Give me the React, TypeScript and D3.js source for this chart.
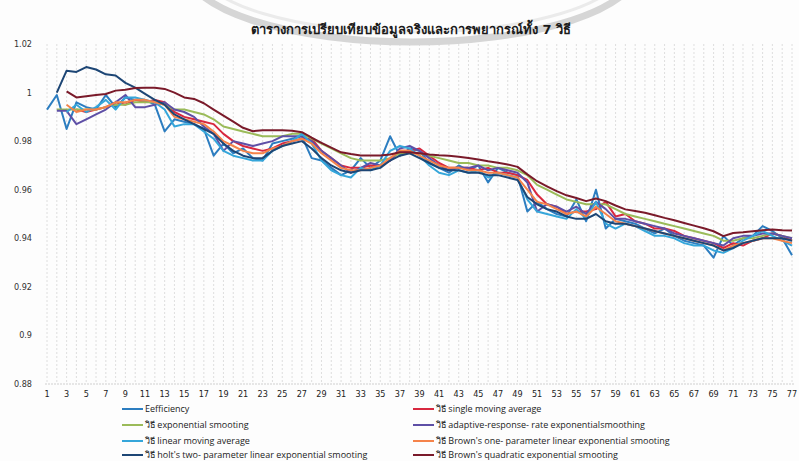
import React from "react";
import * as d3 from "d3";

const categories: number[] = Array.from({ length: 77 }, (_, i) => i + 1);
const yTicks: number[] = [0.88, 0.9, 0.92, 0.94, 0.96, 0.98, 1, 1.02];
const title = "ตารางการเปรียบเทียบข้อมูลจริงและการพยากรณ์ทั้ง  7 วิธี";

const seriesNames: string[] = [
  "Eefficiency",
  "วิธี  single moving  average",
  "วิธี exponential smooting",
  "วิธี adaptive-response- rate exponentialsmoothing",
  "วิธี   linear moving  average",
  "วิธี Brown's one- parameter linear exponential  smooting",
  "วิธี holt's two- parameter linear exponential  smooting",
  "วิธี Brown's quadratic exponential  smooting",
];

type V = number | null;

const efficiency: V[] = [
  0.993, 0.999, 0.985, 0.996, 0.994, 0.993, 0.999, 0.994, 0.998, 0.997,
  0.997, 0.995, 0.984, 0.989, 0.988, 0.987, 0.985, 0.974, 0.979, 0.975,
  0.977, 0.973, 0.972, 0.979, 0.98, 0.981, 0.982, 0.973, 0.972, 0.969,
  0.966, 0.968, 0.973, 0.969, 0.972, 0.982, 0.974, 0.977, 0.976, 0.971,
  0.969, 0.967, 0.97, 0.968, 0.97, 0.963, 0.969, 0.967, 0.966, 0.951,
  0.955, 0.952, 0.95, 0.949, 0.956, 0.947, 0.96, 0.944, 0.948, 0.947,
  0.946, 0.944, 0.942, 0.944, 0.941, 0.939, 0.938, 0.937, 0.932, 0.941,
  0.937, 0.94, 0.941, 0.945, 0.943, 0.94, 0.933,
];

const singleMA: V[] = [
  null, null, null, 0.993, 0.992, 0.993, 0.994, 0.996, 0.995, 0.997,
  0.996, 0.997, 0.996, 0.992, 0.99, 0.989, 0.988, 0.987, 0.983, 0.98,
  0.978, 0.977, 0.976, 0.977, 0.979, 0.98, 0.981, 0.981, 0.976, 0.973,
  0.97, 0.969, 0.969, 0.97, 0.97, 0.972, 0.976, 0.976, 0.977, 0.974,
  0.971, 0.969, 0.969, 0.969, 0.968, 0.969, 0.967, 0.967, 0.966, 0.964,
  0.958, 0.954, 0.953, 0.95, 0.951, 0.951, 0.952, 0.955, 0.949, 0.95,
  0.947, 0.946, 0.944, 0.944, 0.943, 0.941, 0.94, 0.939, 0.938, 0.936,
  0.938, 0.937, 0.939, 0.94, 0.942, 0.941, 0.939,
];

const expSmooth: V[] = [
  null, 0.993, 0.993, 0.993, 0.993, 0.993, 0.994, 0.995, 0.995, 0.996,
  0.996, 0.996, 0.995, 0.993, 0.993, 0.992, 0.991, 0.989, 0.986, 0.985,
  0.984, 0.983, 0.982, 0.982, 0.982, 0.983, 0.983, 0.981, 0.979, 0.977,
  0.975, 0.973, 0.972, 0.972, 0.972, 0.973, 0.975, 0.975, 0.975, 0.974,
  0.973, 0.972, 0.971, 0.971, 0.97, 0.97, 0.969, 0.969, 0.968, 0.966,
  0.962, 0.96, 0.958, 0.956, 0.955, 0.954, 0.954, 0.954, 0.952, 0.95,
  0.949, 0.948, 0.947, 0.946, 0.945, 0.944, 0.943, 0.942, 0.941, 0.939,
  0.939, 0.94, 0.94, 0.941, 0.942, 0.941, 0.94,
];

const adaptive: V[] = [
  null, 0.9925, 0.9925, 0.987, 0.989, 0.991, 0.993, 0.996, 0.999, 0.994,
  0.994, 0.995, 0.996, 0.993, 0.992, 0.99, 0.986, 0.983, 0.976, 0.98,
  0.979, 0.978, 0.979, 0.98, 0.982, 0.982, 0.982, 0.98, 0.976, 0.973,
  0.97, 0.967, 0.969, 0.971, 0.97, 0.972, 0.977, 0.978, 0.976, 0.973,
  0.97, 0.968, 0.969, 0.969, 0.97, 0.968, 0.969, 0.968, 0.967, 0.963,
  0.951, 0.954, 0.953, 0.951, 0.953, 0.95, 0.955, 0.952, 0.948, 0.948,
  0.947, 0.946, 0.945, 0.944, 0.942, 0.941, 0.94, 0.939, 0.938, 0.937,
  0.94, 0.941, 0.941, 0.942, 0.942, 0.941, 0.94,
];

const linearMA: V[] = [
  null, null, 0.992, 0.995, 0.992, 0.994, 0.997, 0.993, 0.998, 0.998,
  0.997, 0.996, 0.993, 0.986, 0.987, 0.987, 0.984, 0.981, 0.976, 0.974,
  0.973, 0.972, 0.972, 0.976, 0.978, 0.98, 0.983, 0.979, 0.972, 0.968,
  0.966, 0.965, 0.969, 0.968, 0.97, 0.976, 0.978, 0.977, 0.974, 0.97,
  0.967, 0.966, 0.968, 0.967, 0.968, 0.965, 0.967, 0.966, 0.965, 0.956,
  0.951, 0.95, 0.949, 0.948, 0.952, 0.948, 0.955, 0.946, 0.944, 0.946,
  0.945, 0.943, 0.941, 0.941, 0.94, 0.938, 0.937, 0.937, 0.935, 0.934,
  0.936, 0.939, 0.941, 0.943, 0.941, 0.939, 0.937,
];

const brownOne: V[] = [
  null, null, 0.995, 0.992, 0.993, 0.993, 0.994, 0.996, 0.996, 0.997,
  0.997, 0.996, 0.995, 0.99, 0.989, 0.988, 0.987, 0.984, 0.98, 0.978,
  0.976, 0.975, 0.975, 0.977, 0.978, 0.98, 0.981, 0.979, 0.975, 0.972,
  0.969, 0.968, 0.968, 0.969, 0.97, 0.973, 0.976, 0.976, 0.974, 0.972,
  0.97, 0.969, 0.969, 0.968, 0.968, 0.967, 0.967, 0.966, 0.965, 0.96,
  0.955, 0.954, 0.952, 0.95, 0.951, 0.949, 0.953, 0.95, 0.947, 0.946,
  0.945, 0.944, 0.943, 0.942, 0.941, 0.94, 0.939, 0.938, 0.937, 0.935,
  0.937, 0.938, 0.939, 0.94, 0.94, 0.939, 0.938,
];

const holt: V[] = [
  null, 1.0, 1.009, 1.0085, 1.0105, 1.0095, 1.0075, 1.007, 1.004, 1.002,
  0.9995, 0.997, 0.995, 0.991, 0.989, 0.987, 0.985, 0.983, 0.979, 0.976,
  0.974, 0.973, 0.973, 0.976, 0.978, 0.979, 0.98, 0.977, 0.973, 0.97,
  0.968, 0.967, 0.968, 0.968, 0.969, 0.972, 0.974, 0.975, 0.973, 0.971,
  0.969, 0.968, 0.968, 0.967, 0.967, 0.966, 0.966, 0.965, 0.964, 0.957,
  0.954, 0.952, 0.951, 0.949, 0.948, 0.948, 0.95, 0.947, 0.946, 0.946,
  0.945, 0.944, 0.943, 0.942, 0.941, 0.94, 0.939, 0.938, 0.937, 0.935,
  0.936, 0.938, 0.939, 0.94, 0.94, 0.94, 0.939,
];

const brownQuad: V[] = [
  null, null, 1.0005, 0.998, 0.9985, 0.999, 0.9994, 1.0008, 1.0012, 1.0019,
  1.002, 1.002, 1.0015, 1.0, 0.998, 0.9974, 0.9956, 0.993, 0.9905, 0.988,
  0.9855, 0.9841, 0.9845, 0.9845, 0.9845, 0.9843, 0.9837, 0.9814, 0.9793, 0.9773,
  0.9754, 0.9747, 0.9741, 0.9741, 0.9741, 0.9745, 0.9754, 0.9754, 0.975, 0.9745,
  0.9742, 0.974, 0.9736, 0.9731, 0.9724, 0.9717, 0.9711, 0.9704, 0.9694, 0.9663,
  0.9635, 0.9614, 0.9594, 0.9577, 0.9566, 0.9553, 0.9564, 0.9553, 0.9535, 0.9519,
  0.9512, 0.9505, 0.9495, 0.9484, 0.9474, 0.9463, 0.9452, 0.9441, 0.9429, 0.9409,
  0.9422, 0.9425, 0.9429, 0.9433, 0.9436, 0.9433, 0.9432,
];

const seriesValues: V[][] = [
  efficiency, singleMA, expSmooth, adaptive, linearMA, brownOne, holt, brownQuad,
];
const seriesColors: string[] = [
  "#2c7dc0", "#d8283f", "#9bbb59", "#5e4fa6",
  "#35a6da", "#f5834a", "#1d4675", "#7a1a2a",
];

export default function App() {
  const W = 799;
  const H = 461;
  const x = d3.scalePoint<number>().domain(categories).range([47, 792]);
  const y = d3.scaleLinear().domain([0.88, 1.02]).range([384, 44]);
  const line = d3
    .line<V>()
    .defined((d) => d !== null)
    .x((_, i) => x(categories[i]) as number)
    .y((d) => y(d as number));

  const fontLat = "'Liberation Sans Narrow', 'DejaVu Sans Condensed', 'Open Sans', sans-serif";
  const fontLegend = "'Open Sans', 'DejaVu Sans', sans-serif";

  const legendCols = [122, 413];
  const legendRows = [409, 425, 441, 455];

  return (
    <svg
      width={W}
      height={H}
      style={{ position: "absolute", left: 0, top: 0, background: "#fff" }}
    >
      <rect x={0} y={0} width={W} height={H} fill="#fdfdfd" />
      {/* watermark ring */}
      <ellipse cx={412} cy={-32} rx={226} ry={74} fill="none" stroke="#d6d6d6" strokeWidth={7} />
      <ellipse cx={412} cy={-32} rx={212} ry={64} fill="none" stroke="#ebebeb" strokeWidth={3} />

      {/* vertical gridlines */}
      {categories.map((c) => (
        <line
          key={"g" + c}
          x1={x(c)}
          x2={x(c)}
          y1={y(1.02)}
          y2={y(0.88)}
          stroke="#d6d6d6"
          strokeWidth={0.8}
          strokeDasharray="2,2"
        />
      ))}
      <line x1={45} x2={794} y1={y(0.88)} y2={y(0.88)} stroke="#cfcfcf" strokeWidth={1} strokeDasharray="2,1" />

      {/* y tick labels */}
      {yTicks.map((t) => (
        <text
          key={"y" + t}
          x={32}
          y={y(t) + 3}
          textAnchor="end"
          fontSize={9}
          fontFamily={fontLat}
          fill="#333"
        >
          {String(+t.toFixed(2))}
        </text>
      ))}

      {/* x tick labels */}
      {categories
        .filter((c) => c % 2 === 1)
        .map((c) => (
          <text
            key={"x" + c}
            x={x(c)}
            y={397}
            textAnchor="middle"
            fontSize={9}
            fontFamily={fontLat}
            fill="#222"
          >
            {c}
          </text>
        ))}

      {/* series lines */}
      {seriesValues.map((vals, i) => (
        <path
          key={"s" + i}
          d={line(vals) || ""}
          fill="none"
          stroke={seriesColors[i]}
          strokeWidth={2}
          strokeLinejoin="round"
        />
      ))}

      {/* title */}
      <text
        x={411}
        y={34}
        textAnchor="middle"
        fontSize={13}
        fontWeight="bold"
        fontFamily="'DejaVu Sans', sans-serif"
        fill="#1a1a1a"
      >
        {title}
      </text>

      {/* legend */}
      {seriesNames.map((name, i) => {
        const col = i % 2;
        const row = Math.floor(i / 2);
        const lx = legendCols[col];
        const ly = legendRows[row];
        return (
          <g key={"l" + i}>
            <line x1={lx} x2={lx + 21} y1={ly} y2={ly} stroke={seriesColors[i]} strokeWidth={2} />
            <text
              x={lx + 23}
              y={ly + 3}
              fontSize={9}
              fontFamily={fontLegend}
              fill="#222"
            >
              {name}
            </text>
          </g>
        );
      })}
    </svg>
  );
}
